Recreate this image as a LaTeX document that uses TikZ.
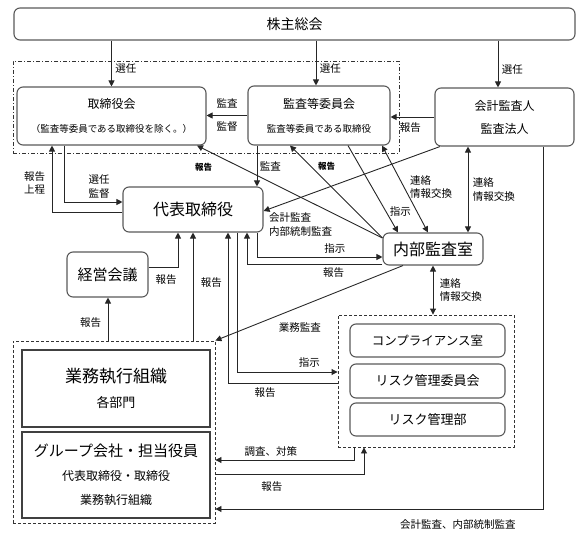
\documentclass[tikz,border=0pt]{standalone}
\usepackage{fontspec}
\setmainfont{Noto Sans CJK JP}
\usepackage{tikz}
\usetikzlibrary{arrows.meta, positioning}

\begin{document}
\begin{tikzpicture}[
    x=1pt, y=-1pt,
    thick,
    box/.style={draw=black!65, line width=1.1pt, rectangle, rounded corners=6pt, align=center, inner sep=0pt},
    sqbox/.style={draw=black!75, line width=1.1pt, rectangle, align=center, inner sep=0pt},
    dashbox/.style={draw=black!80, line width=0.9pt, dash pattern=on 3pt off 2pt, rectangle, inner sep=0pt},
    dotbox/.style={draw=black!80, line width=0.9pt, dash pattern=on 4pt off 2pt on 1pt off 2pt, rectangle, inner sep=0pt},
    conn/.style={draw=black!85, line width=0.9pt, -{Triangle[length=6pt,width=6pt]}},
    both/.style={conn, {Triangle[length=6pt,width=6pt]}-{Triangle[length=6pt,width=6pt]}},
    lbl/.style={font=\fontsize{10.5}{13.5}\selectfont, inner sep=1.5pt},
    tiny/.style={font=\fontsize{8.5}{10}\bfseries\selectfont, inner sep=1pt}
]
\useasboundingbox (0,0) rectangle (587,546);

% Areas
\node[dotbox, minimum width=386pt, minimum height=92pt] (elected) at (206,107) {};
\node[dashbox, minimum width=202pt, minimum height=182pt] (bizarea) at (114,432) {};
\node[dashbox, minimum width=176pt, minimum height=132pt] (riskarea) at (426,381) {};

% Nodes
\node[box, minimum width=561pt, minimum height=32pt, font=\fontsize{14}{16}\selectfont] (shareholders) at (294.5,24) {株主総会};
\node[box, minimum width=189pt, minimum height=58pt, font=\fontsize{12}{24}\selectfont] (board) at (111.5,116)
    {取締役会\\{\fontsize{9.5}{12}\selectfont （監査等委員である取締役を除く。）}};
\node[box, minimum width=142pt, minimum height=59pt, font=\fontsize{12}{24}\selectfont] (auditcomm) at (319,115.5)
    {監査等委員会\\{\fontsize{9.5}{12}\selectfont 監査等委員である取締役}};
\node[box, minimum width=139pt, minimum height=58pt, font=\fontsize{12}{23}\selectfont] (accountant) at (504.5,117)
    {会計監査人\\監査法人};
\node[box, minimum width=140pt, minimum height=45pt, font=\fontsize{16}{18}\selectfont] (president) at (193,209.5) {代表取締役};
\node[box, minimum width=100pt, minimum height=32pt, font=\fontsize{16}{18}\selectfont] (internal) at (433,249) {内部監査室};
\node[box, minimum width=81pt, minimum height=45pt, font=\fontsize{15}{17}\selectfont] (mgmt) at (107.5,274.5) {経営会議};
\node[sqbox, minimum width=188pt, minimum height=77pt, font=\fontsize{17}{24.5}\selectfont] (business) at (116,388.5)
    {業務執行組織\\{\fontsize{13}{15}\selectfont 各部門}};
\node[sqbox, minimum width=188pt, minimum height=86pt, font=\fontsize{15}{24}\selectfont] (group) at (116,475)
    {グループ会社・担当役員\\{\fontsize{12}{14}\selectfont 代表取締役・取締役}\\{\fontsize{12}{14}\selectfont 業務執行組織}};
\node[box, minimum width=155pt, minimum height=33pt, font=\fontsize{12.5}{14}\selectfont] (compliance) at (427.5,340.5) {コンプライアンス室};
\node[box, minimum width=155pt, minimum height=34pt, font=\fontsize{13}{15}\selectfont] (riskcomm) at (427.5,381) {リスク管理委員会};
\node[box, minimum width=155pt, minimum height=33pt, font=\fontsize{13}{15}\selectfont] (riskdept) at (427.5,419.5) {リスク管理部};

% Arrows
\draw[conn] (shareholders.south -| board.north) -- node[lbl, right=2pt, pos=.62] {選任} (board.north);
\draw[conn] (shareholders.south -| 316,0) -- node[lbl, right=2pt, pos=.62] {選任} (auditcomm.north -| 316,0);
\draw[conn] (shareholders.south -| 498,0) -- node[lbl, right=2pt, pos=.62] {選任} (accountant.north -| 498,0);
\draw[conn] (auditcomm.west) -- node[lbl, above=5pt] {監査} node[lbl, below=4pt] {監督} (auditcomm.west -| board.east);
\draw[conn] (accountant.west) -- node[lbl, below=4pt, pos=.55] {報告} (accountant.west -| auditcomm.east);

\draw[conn] (board.south -| 64,0) |- node[lbl, above=2pt, pos=.8, align=center] {選任\\監督} (president.west |- 0,202);
\draw[conn] (president.west |- 0,212) -| node[lbl, left=5pt, pos=.72, align=center] {報告\\上程} (board.south -| 52,0);
\draw[conn] (auditcomm.south -| 257,0) -- node[lbl, right=1pt] {監査} (president.north -| 257,0);
\draw[conn] (internal.west |- 0,238) -- node[tiny, pos=.9, xshift=-12pt, yshift=-12pt] {報告} (board.south -| 197,0);
\draw[conn] (internal.west |- 0,238) -- node[tiny, pos=.69, xshift=8pt, yshift=8pt] {報告} (auditcomm.south -| 290,0);
\draw[conn] (auditcomm.south -| 348,0) -- node[lbl, pos=.76, right=2pt] {指示} (internal.north -| 398,0);
\draw[both] (auditcomm.south -| 382,0) -- node[lbl, pos=.48, right=4pt, align=left] {連絡\\情報交換} (internal.north -| 428,0);
\draw[both] (accountant.south -| 468,0) -- node[lbl, right=3pt, align=left] {連絡\\情報交換} (internal.north -| 468,0);
\draw[conn] (accountant.south -| 440,0) -- node[lbl, pos=.98, anchor=north west, yshift=-1.5pt, align=left] {会計監査\\内部統制監査} (president.east |- 0,211);

\draw[conn] (president.south -| 257,0) |- node[lbl, above=2pt, pos=.81] {指示} (internal.west |- 0,257);
\draw[conn] (internal.west |- 0,264) -| node[lbl, below=2pt, pos=.18] {報告} (president.south -| 247,0);
\draw[conn] (internal.south -| 403,0) -- node[lbl, pos=.55, yshift=-21pt] {業務監査} (bizarea.north east);
\draw[conn] (bizarea.north -| 108,0) -- node[lbl, left=5pt, pos=.41] {報告} (mgmt.south -| 108,0);
\draw[conn] (mgmt.east |- 0,267) -| node[lbl, below=6pt, pos=.3] {報告} (president.south -| 178,0);
\draw[conn] (bizarea.north -| 193,0) -- node[lbl, right=6pt, pos=.54] {報告} (president.south -| 193,0);
\draw[conn] (president.south -| 237,0) |- node[lbl, above=3pt, pos=.86] {指示} (riskarea.west |- 0,372);
\draw[conn] (riskarea.west |- 0,383) -| node[lbl, below=3pt, pos=.33] {報告} (president.south -| 228,0);
\draw[both] (internal.south -| 433,0) -- node[lbl, right=5pt, align=left] {連絡\\情報交換} (riskarea.north -| 433,0);

\draw[conn] (riskarea.south -| 354,0) |- node[lbl, above=2pt, pos=.8] {調査、対策} (bizarea.east |- 0,460);
\draw[conn] (bizarea.east |- 0,474) -| node[lbl, below=6pt, pos=.19] {報告} (riskarea.south -| 364,0);
\draw[conn] (accountant.south -| 543,0) |- node[lbl, below=9pt, pos=.63] {会計監査、内部統制監査} (bizarea.east |- 0,509);

\end{tikzpicture}
\end{document}
